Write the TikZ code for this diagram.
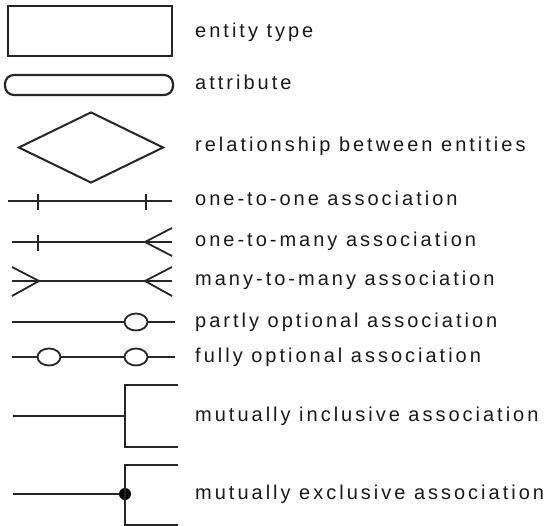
\documentclass[tikz,border=0pt]{standalone}
\usepackage{fontspec}
\setmainfont{Liberation Sans}[LetterSpace=15]
\usetikzlibrary{shapes.geometric}
\begin{document}
\begin{tikzpicture}[x=1pt,y=-1pt,
  ln/.style={line width=1.8pt,draw=black!85},
  thick box/.style={line width=2.2pt,draw=black!85},
  lbl/.style={anchor=base west,inner sep=0pt,font=\fontsize{20}{23}\selectfont,text=black!90},
  opt/.style={ellipse,draw=black!85,line width=1.8pt,fill=white,minimum width=23pt,minimum height=17pt,inner sep=0pt},
  dotmark/.style={circle,fill=black,inner sep=0pt,minimum size=12pt}]
\useasboundingbox (0,0) rectangle (556,526);
% shapes
\node[thick box,rectangle,minimum width=164pt,minimum height=50pt,inner sep=0pt] (ent) at (90,31) {};
\node[thick box,rectangle,rounded corners=9pt,minimum width=168pt,minimum height=20pt,inner sep=0pt] (att) at (89,85) {};
\node[line width=2pt,draw=black!85,diamond,aspect=2.05,minimum width=145pt,minimum height=71pt,inner sep=0pt] (rel) at (91,147.5) {};
% one-to-one
\coordinate (a1) at (8,201); \coordinate (b1) at (172,201);
\draw[ln] (a1) -- (b1);
\draw[ln] (38,194) -- (38,210);
\draw[ln] (146,194) -- (146,210);
% one-to-many
\coordinate (a2) at (12,242); \coordinate (b2) at (172,242);
\draw[ln] (a2) -- (b2);
\draw[ln] (38,235) -- (38,251);
\draw[ln] (172,228) -- (145,242) -- (172,256);
% many-to-many
\coordinate (a3) at (12,281); \coordinate (b3) at (172,281);
\draw[ln] (a3) -- (b3);
\draw[ln] (12,267) -- (39,281) -- (12,296);
\draw[ln] (172,267) -- (145,281) -- (172,296);
% partly optional
\coordinate (a4) at (12,322); \coordinate (b4) at (175,322);
\node[opt] (o4) at (136,322) {};
\draw[ln] (a4) -- (o4.west);
\draw[ln] (o4.east) -- (b4);
% fully optional
\coordinate (a5) at (12,357); \coordinate (b5) at (175,357);
\node[opt] (o5a) at (49,357) {};
\node[opt] (o5b) at (136,357) {};
\draw[ln] (a5) -- (o5a.west);
\draw[ln] (o5a.east) -- (o5b.west);
\draw[ln] (o5b.east) -- (b5);
% mutually inclusive
\coordinate (a6) at (13,416); \coordinate (j6) at (125,416);
\draw[ln] (a6) -- (j6);
\draw[ln] (178,385) -- (125,385) -- (125,447) -- (178,447);
% mutually exclusive
\coordinate (a7) at (13,494);
\node[dotmark] (j7) at (125,494) {};
\draw[ln] (a7) -- (j7);
\draw[ln] (178,465) -- (125,465) -- (125,525) -- (178,525);
% labels
\node[lbl] (t1) at (195,38) {entity type};
\node[lbl] (t2) at (195,90) {attribute};
\node[lbl] (t3) at (195,152) {relationship between entities};
\node[lbl] (t4) at (195,206) {one-to-one association};
\node[lbl] (t5) at (195,247) {one-to-many association};
\node[lbl] (t6) at (195,286) {many-to-many association};
\node[lbl] (t7) at (195,327) {partly optional association};
\node[lbl] (t8) at (195,362) {fully optional association};
\node[lbl] (t9) at (195,421) {mutually inclusive association};
\node[lbl] (t10) at (195,499) {mutually exclusive association};
\end{tikzpicture}
\end{document}
